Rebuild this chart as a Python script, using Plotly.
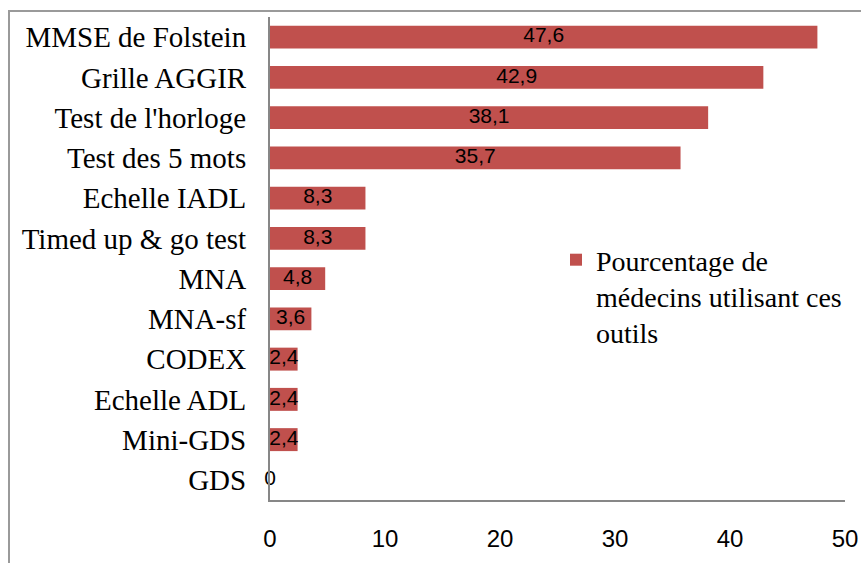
import plotly.graph_objects as go

categories = ["MMSE de Folstein", "Grille AGGIR", "Test de l'horloge", "Test des 5 mots",
              "Echelle IADL", "Timed up & go test", "MNA", "MNA-sf", "CODEX",
              "Echelle ADL", "Mini-GDS", "GDS"]
values = [47.6, 42.9, 38.1, 35.7, 8.3, 8.3, 4.8, 3.6, 2.4, 2.4, 2.4, 0]
series_name = "Pourcentage de<br>médecins utilisant ces<br>outils"
x_ticks = [0, 10, 20, 30, 40, 50]

def fmt(v):
    return "0" if v == 0 else f"{v:.1f}".replace(".", ",")

labels = [fmt(v) for v in values]

W, H = 861, 563
L, R, T, B = 270, 16, 17, 63
pw, ph = W - L - R, H - T - B

fig = go.Figure()
fig.add_trace(go.Bar(
    y=categories, x=values, orientation="h", name=series_name,
    marker=dict(color="#C0504D", line=dict(width=0)),
    showlegend=True,
))
fig.add_trace(go.Scatter(
    y=categories, x=[v / 2 for v in values], mode="text", text=labels,
    textposition="middle center", cliponaxis=False, showlegend=False,
    textfont=dict(family="Liberation Sans, Arial, sans-serif", size=21, color="#000000"),
    hoverinfo="skip",
))

axis_color = "#878787"
fig.update_layout(
    width=W, height=H,
    margin=dict(l=L, r=R, t=T, b=B, pad=0, autoexpand=False),
    paper_bgcolor="white", plot_bgcolor="white",
    bargap=0.43,
    font=dict(family="Liberation Serif, Times New Roman, serif", size=28, color="#000000"),
    xaxis=dict(range=[0, 50], tickvals=x_ticks, ticktext=[str(t) for t in x_ticks],
               showgrid=False, zeroline=False, showline=True, linecolor=axis_color, linewidth=2,
               ticks="", ticklabelstandoff=16, automargin=False,
               tickfont=dict(family="Liberation Sans, Arial, sans-serif", size=24, color="#000000")),
    yaxis=dict(categoryorder="array", categoryarray=categories,
               range=[len(categories) - 0.5, -0.5],
               showgrid=False, zeroline=False, showline=True, linecolor=axis_color, linewidth=2,
               ticks="", ticklabelstandoff=16, automargin=False,
               tickfont=dict(family="Liberation Serif, Times New Roman, serif", size=29, color="#000000")),
    legend=dict(x=(556 - L) / pw, y=(500 - 235) / ph, xanchor="left", yanchor="top",
                valign="top", bgcolor="rgba(0,0,0,0)",
                font=dict(family="Liberation Serif, Times New Roman, serif", size=28, color="#000000")),
    shapes=[dict(type="rect", xref="paper", yref="paper", layer="below",
                 x0=(9 - L) / pw, x1=1.2, y0=-0.3, y1=(500 - 11) / ph,
                 line=dict(color="#9a9a9a", width=2), fillcolor="rgba(0,0,0,0)")],
)

fig.write_html("out.html", config={"displayModeBar": False},
               post_script="document.body.style.margin='0';document.body.style.overflow='hidden';")
